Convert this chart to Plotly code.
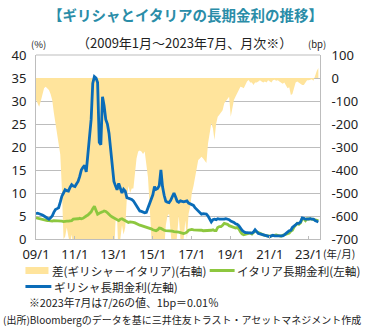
import pandas as pd
import plotly.graph_objects as go

# ---------------- data (monthly, 2009/1 - 2023/7) ----------------
months = pd.date_range("2009-01-01", periods=175, freq="MS")

greece = [
    5.5, 5.6, 5.5, 5.4, 5.2, 5.0, 4.8, 4.6, 4.3, 4.6, 5.0, 5.8,          # 2009
    6.4, 6.6, 6.8, 8.0, 9.3, 10.0, 10.7, 10.5, 10.4, 11.2, 11.8, 11.5,   # 2010
    11.4, 12.0, 12.5, 13.6, 15.0, 15.6, 16.0, 14.6, 18.2, 23.0, 26.0, 33.8,  # 2011
    35.3, 35.0, 34.0, 21.0, 20.5, 30.9, 29.0, 26.0, 25.0, 23.0, 19.3, 16.0,  # 2012
    12.5, 11.5, 10.7, 12.1, 11.0, 10.0, 10.8, 10.4, 9.0, 8.9, 8.7, 8.6,  # 2013
    8.3, 7.8, 7.1, 6.8, 6.1, 6.0, 5.9, 5.7, 5.8, 6.8, 7.5, 8.9,          # 2014
    9.6, 11.4, 10.8, 11.0, 11.6, 15.0, 11.4, 9.5, 8.2, 8.0, 7.9, 8.4,    # 2015
    9.3, 10.0, 9.2, 8.2, 8.0, 8.3, 8.2, 8.1, 8.2, 8.3, 7.8, 7.6,         # 2016
    7.5, 7.3, 6.8, 6.4, 6.0, 5.6, 5.4, 5.5, 5.5, 5.4, 5.0, 4.3,          # 2017
    3.7, 4.2, 4.3, 4.2, 4.4, 4.3, 4.3, 4.2, 4.3, 4.4, 4.3, 4.2,          # 2018
    3.9, 3.8, 3.6, 3.3, 3.2, 2.9, 2.3, 1.9, 1.6, 1.4, 1.4, 1.4,          # 2019
    1.4, 1.3, 1.5, 2.0, 1.6, 1.2, 1.1, 1.0, 1.0, 0.9, 0.8, 0.7,          # 2020
    0.5, 0.7, 0.8, 0.7, 0.7, 0.6, 0.6, 0.6, 0.7, 0.9, 1.3, 1.5,          # 2021
    1.8, 1.9, 2.5, 2.9, 3.1, 3.4, 3.4, 3.7, 4.6, 4.5, 4.3, 4.3,          # 2022
    4.4, 4.4, 4.3, 4.3, 4.0, 3.8, 3.7,                                   # 2023
]

italy = [
    4.6, 4.5, 4.4, 4.3, 4.2, 4.2, 4.1, 4.0, 4.0, 3.9, 3.9, 4.0,          # 2009
    4.0, 4.0, 3.9, 3.9, 3.9, 3.8, 3.9, 3.9, 3.9, 3.9, 4.0, 4.3,          # 2010
    4.3, 4.3, 4.4, 4.5, 4.4, 4.5, 4.8, 5.0, 5.2, 5.5, 5.9, 6.6,          # 2011
    7.1, 6.2, 5.4, 5.6, 5.7, 5.9, 6.1, 6.0, 5.7, 5.3, 5.0, 4.8,          # 2012
    4.6, 4.5, 4.3, 4.0, 4.3, 4.4, 4.2, 4.0, 3.8, 3.6, 3.7, 3.7,          # 2013
    3.6, 3.5, 3.3, 3.1, 3.0, 2.9, 2.8, 2.7, 2.6, 2.5, 2.4, 2.2,          # 2014
    2.0, 1.9, 1.8, 2.0, 2.4, 2.3, 2.0, 1.9, 1.8, 1.8, 1.7, 1.7,          # 2015
    1.7, 1.6, 1.6, 1.5, 1.5, 1.4, 1.3, 1.2, 1.3, 1.5, 1.9, 2.0,          # 2016
    2.1, 2.0, 2.0, 2.0, 1.9, 1.9, 1.9, 1.8, 1.8, 1.8, 1.8, 1.9,          # 2017
    1.9, 2.0, 1.8, 1.8, 2.5, 2.7, 2.7, 3.0, 3.4, 3.3, 3.2, 2.9,          # 2018
    2.8, 2.6, 2.6, 2.4, 2.5, 2.2, 1.6, 1.1, 0.9, 1.0, 1.2, 1.3,          # 2019
    1.3, 1.1, 1.4, 1.8, 1.6, 1.4, 1.2, 1.0, 0.9, 0.8, 0.7, 0.6,          # 2020
    0.6, 0.7, 0.7, 0.8, 0.9, 0.8, 0.6, 0.6, 0.8, 0.9, 1.0, 1.1,          # 2021
    1.3, 1.7, 1.9, 2.6, 3.0, 3.4, 3.2, 3.5, 4.4, 4.4, 4.0, 4.4,          # 2022
    4.3, 4.4, 4.3, 4.2, 4.1, 4.1, 4.0,                                   # 2023
]

spread_bp = [
    -95, -110, -125, -100, -67, -45, -38, -45, -52, -70, -96, -150,      # 2009
    -197, -250, -284, -333, -480, -700, -690, -650, -690, -720, -680, -740,  # 2010
    -720, -780, -800, -900, -1050, -1100, -1150, -1000, -1300, -1750, -2000, -2700,  # 2011
    -2800, -2900, -2800, -1550, -1500, -2500, -2300, -2000, -1950, -1800, -1450, -1150,  # 2012
    -790, -620, -610, -800, -700, -640, -680, -650, -520, -470, -500, -480,  # 2013
    -480, -400, -350, -320, -315, -320, -330, -320, -380, -430, -550, -680,  # 2014
    -760, -950, -900, -880, -900, -1280, -950, -750, -640, -600, -590, -670,  # 2015
    -760, -840, -760, -690, -600, -700, -720, -700, -620, -700, -590, -560,  # 2016
    -500, -470, -430, -400, -357, -350, -342, -350, -360, -370, -284, -230,  # 2017
    -197, -220, -270, -200, -168, -160, -152, -140, -110, -100, -95, -81,    # 2018
    -168, -120, -96, -80, -66, -50, -38, -40, -45, -30, -15, -9,             # 2019
    -20, -20, -30, -20, -20, -15, -10, -15, -20, -15, -20, -10,              # 2020
    -15, -20, -10, -8, -12, -10, -15, -20, -25, -20, -30, -45,               # 2021
    -40, -74, -70, -45, -20, -15, -20, -25, -30, -30, -20, -10,              # 2022
    -10, -8, -5, -12, 10, 30, 43,                                            # 2023
]

x_tick_dates = [f"{y}-01-01" for y in range(2009, 2024, 2)]
x_tick_text = ["09/1", "11/1", "13/1", "15/1", "17/1", "19/1", "21/1", "23/1"]
left_ticks = [0, 5, 10, 15, 20, 25, 30, 35, 40]
left_tick_text = ["0", "5", "10", "15", "20", "25", "30", "35", "40"]
right_ticks = [-700, -600, -500, -400, -300, -200, -100, 0, 100]
right_tick_text = ["-700", "-600", "-500", "-400", "-300", "-200", "-100", "0", "100"]

# ---------------- style ----------------
FONT = "Noto Sans CJK JP, Noto Sans, sans-serif"
NUMFONT = "Noto Sans, DejaVu Sans, sans-serif"
YELLOW = "#FFE49C"
GREEN = "#8DC73F"
BLUE = "#0A6CB8"
GRID = "#BDBDBD"
TEXT = "#222222"
TEAL = "#2A8DA8"
CLEAR = "rgba(0,0,0,0)"

W, H = 370, 330
L, R, T, B = 34, 40, 55, 91
PW, PH = W - L - R, H - T - B


def px(x):
    return (x - L) / PW


def py(y):
    return (H - B - y) / PH


fig = go.Figure()

fig.add_trace(go.Scatter(
    x=months, y=spread_bp, yaxis="y", mode="lines",
    line=dict(width=0, color=YELLOW), fill="tozeroy", fillcolor=YELLOW,
    name="差(ギリシャ－イタリア)(右軸)", hoverinfo="skip"))
fig.add_trace(go.Scatter(
    x=months, y=italy, yaxis="y2", mode="lines",
    line=dict(width=2.8, color=GREEN), name="イタリア長期金利(左軸)"))
fig.add_trace(go.Scatter(
    x=months, y=greece, yaxis="y2", mode="lines",
    line=dict(width=2.8, color=BLUE), name="ギリシャ長期金利(左軸)"))

fig.update_layout(
    width=W, height=H,
    margin=dict(l=L, r=R, t=T, b=B, pad=0),
    paper_bgcolor="white", plot_bgcolor="white",
    showlegend=False,
    font=dict(family=FONT, size=13, color=TEXT),
    xaxis=dict(
        type="date", range=["2009-01-01", "2023-08-01"],
        tickvals=x_tick_dates, ticktext=x_tick_text,
        showgrid=False, showline=True, linecolor=GRID, linewidth=1,
        ticks="inside", ticklen=3, tickcolor=GRID,
        tickfont=dict(family=NUMFONT, size=13, color=TEXT), ticklabelstandoff=3,
    ),
    yaxis=dict(
        side="right", range=[-700, 100], tickvals=right_ticks, ticktext=right_tick_text,
        showgrid=True, gridcolor=GRID, gridwidth=1, zeroline=False,
        showline=True, linecolor=GRID, linewidth=1,
        ticks="outside", ticklen=8, tickcolor=CLEAR,
        tickfont=dict(family=NUMFONT, size=13, color=TEXT),
    ),
    yaxis2=dict(
        overlaying="y", side="left", range=[0, 40],
        tickvals=left_ticks, ticktext=left_tick_text,
        showgrid=False, zeroline=False,
        showline=True, linecolor=GRID, linewidth=1,
        ticks="outside", ticklen=6, tickcolor=CLEAR,
        tickfont=dict(family=NUMFONT, size=13, color=TEXT),
    ),
)

ann = []


def add_text(x, y, text, size, xanchor="center", color=TEXT, bold=False):
    ann.append(dict(
        x=px(x), y=py(y), xref="paper", yref="paper", text=(f"<b>{text}</b>" if bold else text),
        showarrow=False, xanchor=xanchor, yanchor="middle", borderpad=0,
        font=dict(family=FONT, size=size, color=color)))


add_text(190, 14, "【ギリシャとイタリアの長期金利の推移】", 14.5, color=TEAL, bold=True)
add_text(189, 42, "（2009年1月～2023年7月、月次※）", 13)
add_text(37, 44, "(%)", 9.5)
add_text(327, 44, "(bp)", 9.5)
add_text(350, 253, "(年/月)", 10.5)

add_text(50, 270.5, "差(ギリシャ－イタリア)(右軸)", 11.6, xanchor="left")
add_text(242, 270.5, "イタリア長期金利(左軸)", 11.6, xanchor="left")
add_text(52, 286.5, "ギリシャ長期金利(左軸)", 11.6, xanchor="left")
add_text(26, 302, "※2023年7月は7/26の値、1bp＝0.01％", 10.8, xanchor="left")
add_text(186, 319, "(出所)Bloombergのデータを基に三井住友トラスト・アセットマネジメント作成", 10)

fig.update_layout(annotations=ann)

shapes = [
    # top border of the plot area
    dict(type="line", xref="paper", yref="paper", x0=0, x1=1, y0=1, y1=1,
         line=dict(color=GRID, width=1)),
    dict(type="line", xref="paper", yref="paper", x0=px(23), x1=px(47), y0=py(270.5), y1=py(270.5),
         line=dict(color=YELLOW, width=7)),
    dict(type="line", xref="paper", yref="paper", x0=px(215), x1=px(241), y0=py(270.5), y1=py(270.5),
         line=dict(color=GREEN, width=3)),
    dict(type="line", xref="paper", yref="paper", x0=px(23), x1=px(50), y0=py(286.5), y1=py(286.5),
         line=dict(color=BLUE, width=3)),
]
fig.update_layout(shapes=shapes)

fig.write_html("out.html")
